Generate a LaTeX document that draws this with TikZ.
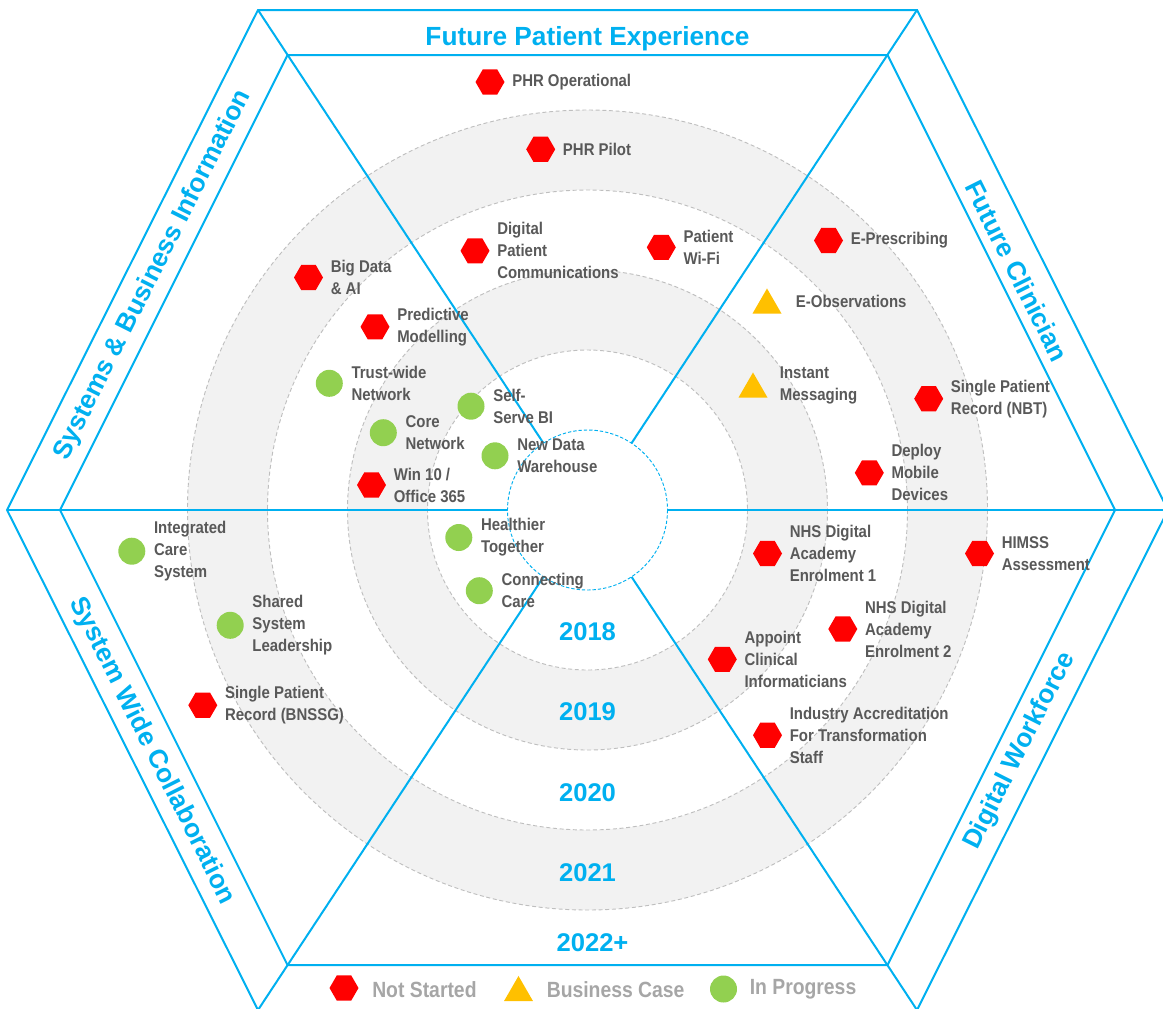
\documentclass[tikz,border=0pt]{standalone}
\usepackage{fontspec}
\setmainfont{Liberation Sans}
\newfontfamily\narrowfont{Liberation Sans}[FakeStretch=0.88]
\usetikzlibrary{positioning, shapes.geometric}

\definecolor{hexblue}{HTML}{00B0F0}
\definecolor{ringgrey}{HTML}{F2F2F2}
\definecolor{dashgrey}{HTML}{BFBFBF}
\definecolor{labelgrey}{HTML}{595959}
\definecolor{keygrey}{HTML}{A6A6A6}
\definecolor{notred}{HTML}{FF0000}
\definecolor{caseamber}{HTML}{FFC000}
\definecolor{progreen}{HTML}{92D050}

\tikzset{
  notstarted/.style={regular polygon, regular polygon sides=6, fill=notred, inner sep=0pt, minimum size=21.75pt},
  bizcase/.style={regular polygon, regular polygon sides=3, fill=caseamber, inner sep=0pt, minimum size=25.1pt},
  inprogress/.style={circle, fill=progreen, inner sep=0pt, minimum size=20.25pt}
}

\begin{document}
\begin{tikzpicture}[x=0.75pt, y=-0.75pt,
    ring/.style={draw=dashgrey, line width=0.7pt, dash pattern=on 3pt off 2pt},
    frame/.style={draw=hexblue, line width=1.5pt},
    side/.style={text=hexblue, font=\fontsize{19.7}{23}\selectfont\bfseries, inner sep=0pt},
    year/.style={text=hexblue, font=\fontsize{19.2}{23}\selectfont\bfseries, inner sep=0pt, anchor=base},
    lbl/.style={text=labelgrey, font=\narrowfont\fontsize{12.75}{16.5}\selectfont\bfseries, align=left, inner sep=0pt},
    key/.style={text=keygrey, font=\narrowfont\fontsize{16.5}{20}\selectfont\bfseries, inner sep=0pt}]
  \useasboundingbox (0,0) rectangle (1163,1008);
  \coordinate (c) at (587.5,510);

  \fill[ringgrey] (c) circle[radius=400];
  \fill[white] (c) circle[radius=320];
  \fill[ringgrey] (c) circle[radius=240];
  \fill[white] (c) circle[radius=160];
  \draw[ring] (c) circle[radius=400];
  \draw[ring] (c) circle[radius=320];
  \draw[ring] (c) circle[radius=240];
  \draw[ring] (c) circle[radius=160];

  \coordinate (o1) at (7,510);
  \coordinate (o2) at (258,10);
  \coordinate (o3) at (917,10);
  \coordinate (o4) at (1168,510);
  \coordinate (o5) at (917,1010);
  \coordinate (o6) at (258,1010);
  \coordinate (i1) at (60,510);
  \coordinate (i2) at (287.5,55);
  \coordinate (i3) at (887.5,55);
  \coordinate (i4) at (1115,510);
  \coordinate (i5) at (887.5,965);
  \coordinate (i6) at (287.5,965);
  \draw[frame] (o1) -- (o2) -- (o3) -- (o4) -- (o5) -- (o6) -- cycle;
  \draw[frame] (i1) -- (i2) -- (i3) -- (i4) -- (i5) -- (i6) -- cycle;
  \draw[frame] (o1) -- (o4);
  \draw[frame] (o2) -- (o5);
  \draw[frame] (o3) -- (o6);
  \fill[white] (c) circle[radius=80];
  \draw[draw=hexblue, line width=0.7pt, dash pattern=on 2.5pt off 1.5pt] (c) circle[radius=80];

  \node[side, anchor=base] (fpe) at (587.5,45) {Future Patient Experience};
  \node[side, rotate=63.34] (sbi) at (153,275) {Systems \& Business Information};
  \node[side, rotate=-63.34] (fcl) at (1017,271) {Future Clinician};
  \node[side, rotate=-63.34] (swc) at (152,751) {System Wide Collaboration};
  \node[side, rotate=63.34] (dwf) at (1020,751) {Digital Workforce};

  \node[year] (y18) at (587.5,640) {2018};
  \node[year] (y19) at (587.5,720) {2019};
  \node[year] (y20) at (587.5,801) {2020};
  \node[year] (y21) at (587.5,881) {2021};
  \node[year] (y22) at (592.5,951) {2022+};

  \node[notstarted] (phrop) at (490,82) {};
  \node[lbl, right=16.5pt of phrop.center] (phroptxt) {PHR Operational};
  \node[notstarted] (phrpil) at (540.7,149.3) {};
  \node[lbl, right=16.5pt of phrpil.center] (phrpiltxt) {PHR Pilot};
  \node[notstarted] (dpc) at (475,250.8) {};
  \node[lbl, right=16.5pt of dpc.center] (dpctxt) {Digital\\Patient\\Communications};
  \node[notstarted] (wifi) at (661.3,247.3) {};
  \node[lbl, right=16.5pt of wifi.center] (wifitxt) {Patient\\Wi-Fi};
  \node[notstarted] (epres) at (828.5,240.5) {};
  \node[lbl, right=16.5pt of epres.center] (eprestxt) {E-Prescribing};
  \node[bizcase] (eobs) at (767,305.2) {};
  \node[lbl, right=21.5pt of eobs.center, yshift=3.15pt] (eobstxt) {E-Observations};
  \node[bizcase] (imsg) at (753,389.2) {};
  \node[lbl, right=20pt of imsg.center, yshift=3.15pt] (imsgtxt) {Instant\\Messaging};
  \node[notstarted] (spnbt) at (928.7,398.7) {};
  \node[lbl, right=16.5pt of spnbt.center] (spnbttxt) {Single Patient\\Record (NBT)};
  \node[notstarted] (mobile) at (869.3,472.8) {};
  \node[lbl, right=16.5pt of mobile.center] (mobiletxt) {Deploy\\Mobile\\Devices};

  \node[notstarted] (bigdata) at (308.5,277.5) {};
  \node[lbl, right=16.5pt of bigdata.center] (bigdatatxt) {Big Data\\\& AI};
  \node[notstarted] (predict) at (375,326.8) {};
  \node[lbl, right=16.5pt of predict.center] (predicttxt) {Predictive\\Modelling};
  \node[inprogress] (trust) at (329.3,383.3) {};
  \node[lbl, right=16.5pt of trust.center] (trusttxt) {Trust-wide\\Network};
  \node[inprogress] (core) at (383.3,432.7) {};
  \node[lbl, right=16.5pt of core.center] (coretxt) {Core\\Network};
  \node[inprogress] (selfbi) at (471,406.2) {};
  \node[lbl, right=16.5pt of selfbi.center] (selfbitxt) {Self-\\Serve BI};
  \node[inprogress] (ndw) at (495,455.8) {};
  \node[lbl, right=16.5pt of ndw.center] (ndwtxt) {New Data\\Warehouse};
  \node[notstarted] (win) at (371.5,485) {};
  \node[lbl, right=16.5pt of win.center] (wintxt) {Win 10 /\\Office 365};

  \node[inprogress] (healthy) at (458.8,537.5) {};
  \node[lbl, right=16.5pt of healthy.center] (healthytxt) {Healthier\\Together};
  \node[inprogress] (conncare) at (479.3,590.7) {};
  \node[lbl, right=16.5pt of conncare.center] (conncaretxt) {Connecting\\Care};
  \node[inprogress] (ics) at (131.8,551.2) {};
  \node[lbl, right=16.5pt of ics.center] (icstxt) {Integrated\\Care\\System};
  \node[inprogress] (shared) at (230.2,625.3) {};
  \node[lbl, right=16.5pt of shared.center] (sharedtxt) {Shared\\System\\Leadership};
  \node[notstarted] (spbnssg) at (202.8,705.2) {};
  \node[lbl, right=16.5pt of spbnssg.center] (spbnssgtxt) {Single Patient\\Record (BNSSG)};

  \node[notstarted] (nhs1) at (767.5,553.5) {};
  \node[lbl, right=16.5pt of nhs1.center] (nhs1txt) {NHS Digital\\Academy\\Enrolment 1};
  \node[notstarted] (himss) at (979.5,553.5) {};
  \node[lbl, right=16.5pt of himss.center] (himsstxt) {HIMSS\\Assessment};
  \node[notstarted] (nhs2) at (842.8,629) {};
  \node[lbl, right=16.5pt of nhs2.center] (nhs2txt) {NHS Digital\\Academy\\Enrolment 2};
  \node[notstarted] (appoint) at (722.3,659.3) {};
  \node[lbl, right=16.5pt of appoint.center] (appointtxt) {Appoint\\Clinical\\Informaticians};
  \node[notstarted] (industry) at (767.5,735.2) {};
  \node[lbl, right=16.5pt of industry.center] (industrytxt) {Industry Accreditation\\For Transformation\\Staff};

  \node[notstarted] (keyns) at (344,988) {};
  \node[key, right=21pt of keyns.center, yshift=-1pt] (keynstxt) {Not Started};
  \node[bizcase] (keybc) at (518.5,992.7) {};
  \node[key, right=21pt of keybc.center, yshift=2.4pt] (keybctxt) {Business Case};
  \node[inprogress] (keyip) at (723.5,989) {};
  \node[key, right=19.5pt of keyip.center] (keyiptxt) {In Progress};
\end{tikzpicture}
\end{document}
